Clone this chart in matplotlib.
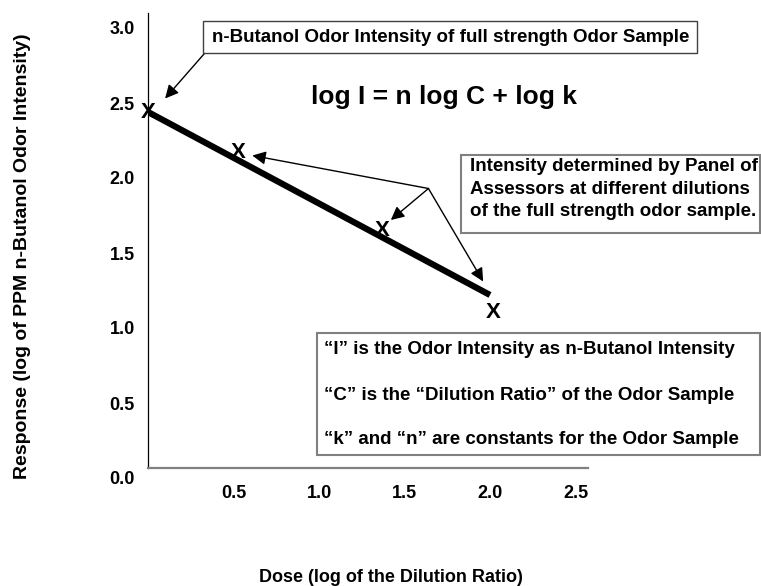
# -*- coding: utf-8 -*-
"""
Dose-response sketch: odor intensity vs dilution ratio (log-log)
"""

import matplotlib.pyplot as plt
from matplotlib.patches import Rectangle

# %% Data

x_ticks = [0.5, 1.0, 1.5, 2.0, 2.5]
y_ticks = [0.0, 0.5, 1.0, 1.5, 2.0, 2.5, 3.0]

# fitted line (log C, log I)
line_x = [0.0, 2.0]
line_y = [2.44, 1.22]

# panel judgements, drawn as "X"
pts_x = [0.0, 0.53, 1.37, 2.02]
pts_y = [2.44, 2.17, 1.65, 1.10]

# arrow from the panel note to the three diluted samples
note_src = (1.64, 1.93)
note_tips_x = [0.61, 1.42, 1.96]
note_tips_y = [2.15, 1.72, 1.31]

# arrow from the top note to the full strength sample
top_src = (0.33, 2.83)
top_tip = (0.10, 2.53)

eq_text = 'log I = n log C + log k'
top_text = 'n-Butanol Odor Intensity of full strength Odor Sample'
panel_text = ('Intensity determined by Panel of\n'
              'Assessors at different dilutions\n'
              'of the full strength odor sample.')
def_lines = ['\u201cI\u201d is the Odor Intensity as n-Butanol Intensity',
             '\u201cC\u201d is the \u201cDilution Ratio\u201d of the Odor Sample',
             '\u201ck\u201d and \u201cn\u201d are constants for the Odor Sample']

# %% Figure

W, H = 761, 586
plt.rcParams['font.family'] = ['Liberation Sans', 'DejaVu Sans']
plt.rcParams['font.weight'] = 'bold'

fig = plt.figure(figsize=(W/100, H/100), dpi=100)


def fx(px):
    return px/W


def fy(py):
    return 1 - py/H


ax = fig.add_axes([fx(148), fy(478), 440/W, 465/H])
ax.set_xlim(0, 2.573)
ax.set_ylim(0, 3.1)

for s in ['top', 'right']:
    ax.spines[s].set_visible(False)
ax.spines['left'].set_color('black')
ax.spines['left'].set_linewidth(0.9)
ax.spines['left'].set_bounds(0.067, 3.1)
ax.spines['bottom'].set_position(('data', 0.067))
ax.spines['bottom'].set_color('#808080')
ax.spines['bottom'].set_linewidth(1.6)

ax.set_xticks(x_ticks)
ax.set_xticklabels(['%.1f' % v for v in x_ticks])
ax.set_yticks(y_ticks)
ax.set_yticklabels(['%.1f' % v for v in y_ticks])
ax.tick_params(axis='x', length=0, pad=12, labelsize=13)
ax.tick_params(axis='y', length=0, pad=9.5, labelsize=13)

# line and points
ax.plot(line_x, line_y, color='black', lw=4.5, solid_capstyle='butt')
for xv, yv in zip(pts_x, pts_y):
    ax.text(xv, yv, 'X', ha='center', va='center', fontsize=16,
            fontweight='bold', clip_on=False)

ax.text(1.73, 2.54, eq_text, ha='center', va='center', fontsize=19,
        fontweight='bold')

# arrows
arr = dict(arrowstyle='-|>', mutation_scale=20, lw=1.0, color='black',
           shrinkA=0, shrinkB=0)
ax.annotate('', xy=top_tip, xytext=top_src, arrowprops=arr,
            annotation_clip=False)
for tx, ty in zip(note_tips_x, note_tips_y):
    ax.annotate('', xy=(tx, ty), xytext=note_src, arrowprops=arr)

# text boxes (pixel layout)
fig.patches.append(Rectangle((fx(203), fy(53)), 494/W, 32/H,
                             transform=fig.transFigure, fill=False,
                             ec='#404040', lw=1.0))
fig.text(fx(212), fy(37), top_text, ha='left', va='center', fontsize=13.5)

fig.patches.append(Rectangle((fx(461), fy(233)), 299/W, 78/H,
                             transform=fig.transFigure, fill=False,
                             ec='#808080', lw=1.5))
fig.text(fx(470), fy(189), panel_text, ha='left', va='center',
         fontsize=13.5, linespacing=1.42)

fig.patches.append(Rectangle((fx(317), fy(455)), 443/W, 122/H,
                             transform=fig.transFigure, fill=False,
                             ec='#808080', lw=1.5))
for i, t in enumerate(def_lines):
    fig.text(fx(324), fy(350 + 45*i), t, ha='left', va='center',
             fontsize=13.5)

# axis titles
fig.text(fx(391), fy(577), 'Dose (log of the Dilution Ratio)', ha='center',
         va='center', fontsize=13)
fig.text(fx(23), fy(256), 'Response (log of PPM n-Butanol Odor Intensity)',
         ha='center', va='center', rotation=90, fontsize=14)

fig.savefig('out.png', dpi=100)
